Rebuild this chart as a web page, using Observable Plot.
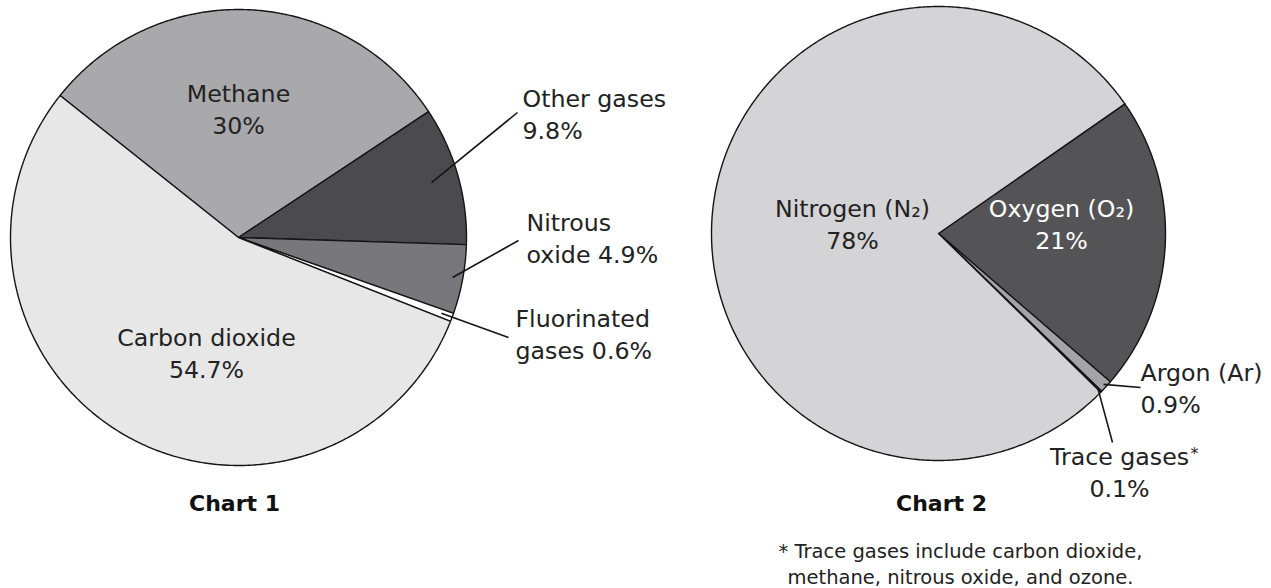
<!DOCTYPE html>
<html>
<head>
<meta charset="utf-8">
<script src="https://cdn.jsdelivr.net/npm/d3@7"></script>
<script src="https://cdn.jsdelivr.net/npm/@observablehq/plot@0.6"></script>
<style>
  html, body { margin: 0; padding: 0; background: #fff; }
  #chart { width: 1271px; height: 588px; }
</style>
</head>
<body>
<div id="chart"></div>
<script>
// ---------- DATA ----------
const chart1Names  = ["Methane", "Other gases", "Nitrous oxide", "Fluorinated gases", "Carbon dioxide"];
const chart1Values = [30, 9.8, 4.9, 0.6, 54.7];
const chart1Labels = ["Methane\n30%", "Other gases\n9.8%", "Nitrous\noxide 4.9%", "Fluorinated\ngases 0.6%", "Carbon dioxide\n54.7%"];

const chart2Names  = ["Oxygen", "Argon", "Trace gases", "Nitrogen"];
const chart2Values = [21, 0.9, 0.1, 78];
const chart2Labels = ["Oxygen (O₂)\n21%", "Argon (Ar)\n0.9%", "Trace gases\n0.1%", "Nitrogen (N₂)\n78%"];

const chartTitles = ["Chart 1", "Chart 2"];
const footnote = "* Trace gases include carbon dioxide,\nmethane, nitrous oxide, and ozone.";

// ---------- LAYOUT / STYLE ----------
const pie1 = {cx: 238, cy: 237, r: 228, start: -51.5};
const pie2 = {cx: 938, cy: 233, r: 227, start: 55.2};
const sliceColors = {
  "Methane": "#a9a9ac", "Other gases": "#4b4b4e", "Nitrous oxide": "#78787c",
  "Fluorinated gases": "#ffffff", "Carbon dioxide": "#e7e7e7",
  "Oxygen": "#545456", "Argon": "#a4a4a6", "Trace gases": "#ffffff", "Nitrogen": "#d4d4d6"
};
// label placement: [x, baseline of last line, anchor, color]
const labelLayout1 = [
  [238, 133, "middle", "#222"],
  [522, 138, "start", "#222"],
  [526, 262, "start", "#222"],
  [515, 358, "start", "#222"],
  [206, 377, "middle", "#222"]
];
const labelLayout2 = [
  [1061, 248, "middle", "#fff"],
  [1140, 412, "start", "#222"],
  [1119, 496, "middle", "#222"],
  [852, 248, "middle", "#222"]
];
// leader lines: [slice index, start radius fraction, end x, end y]
const leaders1 = [[1, 0.88, 517, 112], [2, 0.955, 518, 240], [3, 0.95, 508, 337]];
const leaders2 = [[1, 0.985, 1140, 387], [2, 0.98, 1112, 442]];

// ---------- GEOMETRY FROM VALUES ----------
function sliceAngles(values, start) {
  const total = d3.sum(values);
  let a = start;
  return values.map(v => { const a0 = a; a += v / total * 360; return [a0, a]; });
}
function polar(pie, deg, frac = 1) {
  const t = deg * Math.PI / 180;
  return [pie.cx + pie.r * frac * Math.sin(t), pie.cy - pie.r * frac * Math.cos(t)];
}
function slicePoints(names, values, pie) {
  const pts = [];
  sliceAngles(values, pie.start).forEach(([a0, a1], i) => {
    const n = Math.max(2, Math.ceil((a1 - a0) / 0.5));
    pts.push({name: names[i], x: pie.cx, y: pie.cy});
    for (let k = 0; k <= n; k++) {
      const [x, y] = polar(pie, a0 + (a1 - a0) * k / n);
      pts.push({name: names[i], x, y});
    }
    pts.push({name: names[i], x: pie.cx, y: pie.cy});
  });
  return pts;
}
function leaderLinks(values, pie, leaders) {
  const ang = sliceAngles(values, pie.start);
  return leaders.map(([i, f, x2, y2]) => {
    const [x1, y1] = polar(pie, (ang[i][0] + ang[i][1]) / 2, f);
    return {x1, y1, x2, y2};
  });
}
const labelRows = (labels, layout) => labels.map((t, i) => ({text: t, x: layout[i][0], y: layout[i][1], anchor: layout[i][2], color: layout[i][3]}));

const slices = [...slicePoints(chart1Names, chart1Values, pie1), ...slicePoints(chart2Names, chart2Values, pie2)];
const links = [...leaderLinks(chart1Values, pie1, leaders1), ...leaderLinks(chart2Values, pie2, leaders2)];
const labels = [...labelRows(chart1Labels, labelLayout1), ...labelRows(chart2Labels, labelLayout2)];
const allNames = [...chart1Names, ...chart2Names];

const font = "DejaVu Sans, Verdana, sans-serif";
const textOpts = {x: "x", y: "y", text: "text", fontFamily: font, lineAnchor: "bottom"};

const plot = Plot.plot({
  width: 1271, height: 588,
  margin: 0,
  x: {domain: [0, 1271], range: [0, 1271], axis: null},
  y: {domain: [0, 588], range: [0, 588], axis: null},
  color: {domain: allNames, range: allNames.map(n => sliceColors[n])},
  style: {background: "#fff"},
  marks: [
    Plot.line(slices, {x: "x", y: "y", z: "name", fill: "name", stroke: "#151515", strokeWidth: 1.4, strokeLinejoin: "round"}),
    Plot.link(links, {x1: "x1", y1: "y1", x2: "x2", y2: "y2", stroke: "#151515", strokeWidth: 1.6}),
    ...["start", "middle"].map(anchor =>
      Plot.text(labels.filter(d => d.anchor === anchor), {...textOpts, fill: "color", textAnchor: anchor, fontSize: 23.7, lineHeight: 1.33})
    ),
    Plot.text(["*"], {x: () => 1194, y: () => 458, text: d => d, fontFamily: font, fontSize: 16, fill: "#222", lineAnchor: "bottom"}),
    Plot.text(chartTitles, {x: (d, i) => [234, 941][i], y: () => 510, text: d => d, fontFamily: font, fontSize: 22, fontWeight: "bold", fill: "#111", lineAnchor: "bottom"}),
    Plot.text([footnote], {x: () => 960, y: () => 583, text: d => d, fontFamily: font, fontSize: 19.5, lineHeight: 1.33, fill: "#222", lineAnchor: "bottom"})
  ]
});
document.getElementById("chart").appendChild(plot);
</script>
</body>
</html>
